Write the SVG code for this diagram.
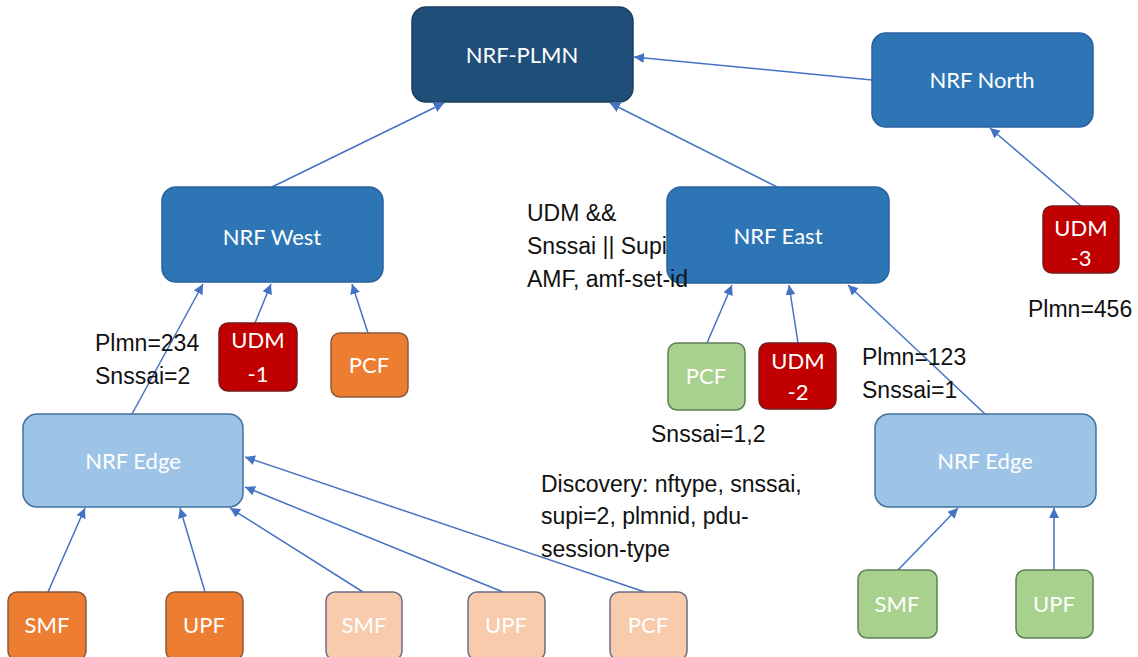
<svg xmlns="http://www.w3.org/2000/svg" width="1138" height="657" viewBox="0 0 1138 657">
<style>
.n{stroke-width:1.5}
.dk{fill:#1f4e79;stroke:#1a3f63}
.md{fill:#2e75b6;stroke:#2a62a0}
.lt{fill:#9dc3e6;stroke:#41719c}
.red{fill:#c00000;stroke:#7a1a1a}
.or{fill:#ed7d31;stroke:#8a5a3c}
.lo{fill:#f8cbad;stroke:#6a6e82}
.gr{fill:#a9d18e;stroke:#5d7f55}
.wl{font-family:Lato,"Open Sans",sans-serif;font-size:22px;fill:#ffffff;text-anchor:middle}
.bl{font-family:"Liberation Sans",Arial,sans-serif;font-size:23px;fill:#111111}
.c line{stroke:#4472c4;stroke-width:1.5;fill:none;marker-end:url(#ah)}
</style>
<defs>
<marker id="ah" markerUnits="userSpaceOnUse" markerWidth="12" markerHeight="10" refX="10" refY="5" orient="auto">
<path d="M0,0 L10,5 L0,10 Z" fill="#4472c4"/>
</marker>
</defs>
<rect width="1138" height="657" fill="#ffffff"/>

<g id="connectors" class="c">
<line x1="872" y1="80" x2="634" y2="57"/>
<line x1="272" y1="187" x2="444" y2="103"/>
<line x1="777" y1="187" x2="610" y2="103"/>
<line x1="1081" y1="206" x2="990" y2="128"/>
<line x1="132" y1="414" x2="203" y2="284"/>
<line x1="255" y1="323" x2="271" y2="284"/>
<line x1="368" y1="333" x2="352" y2="284"/>
<line x1="707" y1="343" x2="732" y2="285"/>
<line x1="798" y1="343" x2="789" y2="285"/>
<line x1="985" y1="414" x2="848" y2="285"/>
<line x1="48" y1="592" x2="85" y2="508"/>
<line x1="205" y1="592" x2="180" y2="508"/>
<line x1="363" y1="592" x2="230" y2="508"/>
<line x1="503" y1="592" x2="245" y2="487"/>
<line x1="645" y1="592" x2="245" y2="457"/>
<line x1="898" y1="570" x2="958" y2="508"/>
<line x1="1054" y1="570" x2="1054" y2="508"/>
</g>

<g id="nrf-plmn"><rect class="n dk" x="412" y="7" width="221" height="95" rx="14"/><text class="wl" x="522" y="63">NRF-PLMN</text></g>
<g id="nrf-north"><rect class="n md" x="872" y="33" width="221" height="94" rx="14"/><text class="wl" x="982" y="88">NRF North</text></g>
<g id="nrf-west"><rect class="n md" x="162" y="187" width="221" height="95" rx="14"/><text class="wl" x="272" y="245">NRF West</text></g>
<g id="nrf-east"><rect class="n md" x="667" y="187" width="222" height="96" rx="14"/><text class="wl" x="778" y="244">NRF East</text></g>
<g id="udm-3"><rect class="n red" x="1043" y="206" width="76" height="67" rx="9"/><text class="wl" x="1081" y="236">UDM</text><text class="wl" x="1081" y="266">-3</text></g>
<g id="udm-1"><rect class="n red" x="219" y="323" width="78" height="68" rx="9"/><text class="wl" x="258" y="348">UDM</text><text class="wl" x="258" y="382">-1</text></g>
<g id="pcf-west"><rect class="n or" x="331" y="333" width="77" height="64" rx="9"/><text class="wl" x="369" y="373">PCF</text></g>
<g id="pcf-east"><rect class="n gr" x="668" y="343" width="77" height="67" rx="9"/><text class="wl" x="706" y="384">PCF</text></g>
<g id="udm-2"><rect class="n red" x="759" y="343" width="77" height="66" rx="9"/><text class="wl" x="798" y="369">UDM</text><text class="wl" x="798" y="400">-2</text></g>
<g id="nrf-edge-left"><rect class="n lt" x="23" y="414" width="220" height="93" rx="14"/><text class="wl" x="133" y="469">NRF Edge</text></g>
<g id="nrf-edge-right"><rect class="n lt" x="875" y="414" width="221" height="93" rx="14"/><text class="wl" x="985" y="469">NRF Edge</text></g>
<g id="smf-1"><rect class="n or" x="8" y="592" width="78" height="68" rx="9"/><text class="wl" x="47" y="633">SMF</text></g>
<g id="upf-1"><rect class="n or" x="166" y="592" width="77" height="68" rx="9"/><text class="wl" x="204" y="633">UPF</text></g>
<g id="smf-2"><rect class="n lo" x="326" y="592" width="76" height="68" rx="9"/><text class="wl" x="364" y="633">SMF</text></g>
<g id="upf-2"><rect class="n lo" x="468" y="592" width="77" height="68" rx="9"/><text class="wl" x="506" y="633">UPF</text></g>
<g id="pcf-2"><rect class="n lo" x="610" y="592" width="77" height="68" rx="9"/><text class="wl" x="648" y="633">PCF</text></g>
<g id="smf-3"><rect class="n gr" x="858" y="570" width="79" height="68" rx="9"/><text class="wl" x="897" y="612">SMF</text></g>
<g id="upf-3"><rect class="n gr" x="1016" y="570" width="77" height="68" rx="9"/><text class="wl" x="1054" y="612">UPF</text></g>

<g id="labels">
<text class="bl" x="527" y="221">UDM &amp;&amp;</text>
<text class="bl" x="527" y="254">Snssai || Supi</text>
<text class="bl" x="527" y="287">AMF, amf-set-id</text>
<text class="bl" x="1028" y="317">Plmn=456</text>
<text class="bl" x="95" y="351">Plmn=234</text>
<text class="bl" x="95" y="384">Snssai=2</text>
<text class="bl" x="862" y="365">Plmn=123</text>
<text class="bl" x="862" y="398">Snssai=1</text>
<text class="bl" x="651" y="442">Snssai=1,2</text>
<text class="bl" x="541" y="492">Discovery: nftype, snssai,</text>
<text class="bl" x="541" y="524">supi=2, plmnid, pdu-</text>
<text class="bl" x="541" y="557">session-type</text>
</g>
</svg>
